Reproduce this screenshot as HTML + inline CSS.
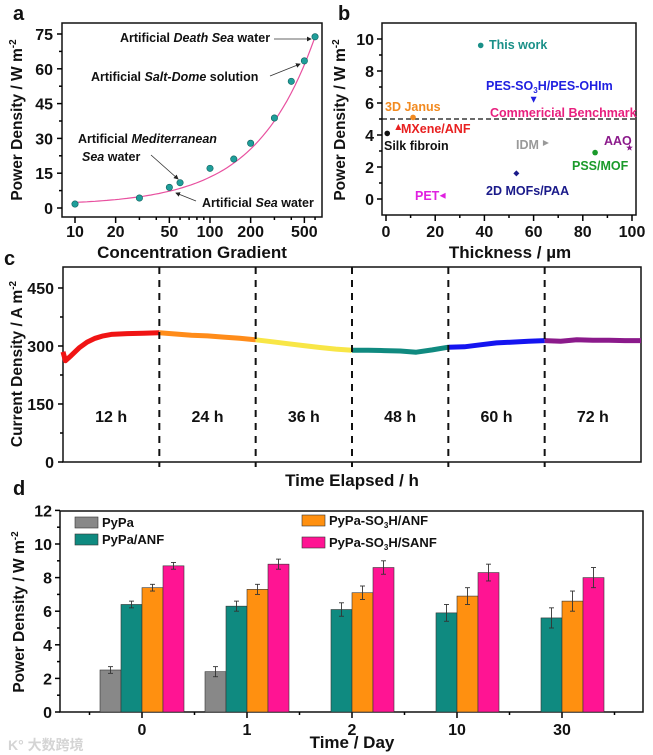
<!DOCTYPE html>
<html><head><meta charset="utf-8">
<style>
html,body{margin:0;padding:0;background:#fff;}
svg{display:block;font-family:"Liberation Sans",Arial,sans-serif;font-weight:bold;}
</style></head>
<body>
<svg id="fig" width="653" height="755" viewBox="0 0 653 755" xmlns="http://www.w3.org/2000/svg">
<g id="pa"></g>
<g id="pb"></g>
<g id="pc"></g>
<g id="pd"></g>
<text x="8" y="750" font-size="14" fill="#d4d4d4" font-family="'Liberation Sans','Noto Sans CJK SC',sans-serif">K° 大数跨境</text>
</svg>
<script>
// ---------- DATA ----------
// panel a
const aConc = [10,30,50,60,100,150,200,300,400,500,600];
const aPower = [1.7,4.3,8.9,10.9,17.1,21.1,27.9,38.8,54.6,63.4,73.8];
const aYTicks = [0,15,30,45,60,75];
const aXTicks = [10,20,50,100,200,500];
// panel b
const bNames = ["This work","PES-SO3H/PES-OHIm","3D Janus","MXene/ANF","Silk fibroin","IDM","AAO","PSS/MOF","2D MOFs/PAA","PET"];
const bThick = [38.5,60,11,5,0.5,65,99,85,53,23];
const bPower = [9.6,6.2,5.1,4.5,4.1,3.5,3.2,2.9,1.6,0.2];
const bYTicks = [0,2,4,6,8,10];
const bXTicks = [0,20,40,60,80,100];
const bBenchmark = 5;
// panel c
const cTime = [0,0.3,1,2,3,4,5,6,8,10,12,14,16,18,20,22,24,26,28,30,32,34,36,38,40,42,44,46,48,50,52,54,56,58,60,62,64,66,68,70,72];
const cCurrent = [285,262,275,295,310,320,326,330,332,333,334,331,328,326,323,320,316,311,306,301,296,292,289,289,288,287,284,290,297,298,303,308,310,312,314,312,316,315,315,314,314];
const cSegLabels = ["12 h","24 h","36 h","48 h","60 h","72 h"];
const cYTicks = [0,150,300,450];
// panel d
const dDays = ["0","1","2","10","30"];
const dPyPa = [2.5,2.4,null,null,null];
const dPyPaErr = [0.2,0.3,0,0,0];
const dANF = [6.4,6.3,6.1,5.9,5.6];
const dANFErr = [0.2,0.3,0.4,0.5,0.6];
const dSO3H = [7.4,7.3,7.1,6.9,6.6];
const dSO3HErr = [0.2,0.3,0.4,0.5,0.6];
const dSANF = [8.7,8.8,8.6,8.3,8.0];
const dSANFErr = [0.2,0.3,0.4,0.5,0.6];
const dYTicks = [0,2,4,6,8,10,12];

// ---------- HELPERS ----------
const NS="http://www.w3.org/2000/svg";
function mk(parent,tag,attrs,txt){const e=document.createElementNS(NS,tag);for(const k in attrs)e.setAttribute(k,attrs[k]);if(txt!==undefined)e.textContent=txt;parent.appendChild(e);return e;}
function line(p,x1,y1,x2,y2,st,w,dash){return mk(p,'line',{x1,y1,x2,y2,stroke:st||'#000','stroke-width':w||1.5,'stroke-dasharray':dash||'none'});}
function txt(p,x,y,s,size,anchor,fill){return mk(p,'text',{x,y,'font-size':size||16,'text-anchor':anchor||'middle',fill:fill||'#111'},s);}
function ytitle(p,x,y,main,unit,sup){const t=mk(p,'text',{x:0,y:0,'font-size':15.5,'text-anchor':'middle',transform:`translate(${x},${y}) rotate(-90)`,fill:'#111'});
 mk(t,'tspan',{},main+' / '+unit+' m');mk(t,'tspan',{dy:-6,'font-size':10},sup);return t;}

// ---------- PANEL A ----------
const pa=document.getElementById('pa');
const xa=v=>75+135*Math.log10(v/10), ya=v=>208-2.32*v;
txt(pa,13,20,'a',20,'start');
const aBox=mk(pa,'rect',{x:62,y:23,width:260,height:194,fill:'none',stroke:'#111','stroke-width':1.5});


aYTicks.forEach(v=>{line(pa,57,ya(v),62,ya(v));const t=txt(pa,53,ya(v)+6,String(v),16,'end');
 
 });
for(let v=7.5;v<80;v+=15){if(ya(v)>23)line(pa,59,ya(v),62,ya(v));}
[10,20,30,40,50,60,70,80,90,100,200,300,400,500,600].forEach(v=>{const big=aXTicks.includes(v);line(pa,xa(v),217,xa(v),big?223:220);});
aXTicks.forEach(v=>{const t=txt(pa,xa(v),237,String(v),16);
 
 });
const atx=txt(pa,192,258,'Concentration Gradient',17);


const aty=ytitle(pa,22,120,'Power Density','W','-2');


// fit curve
let d='';for(let i=0;i<=60;i++){const c=10*Math.pow(60,i/60);const y=1.2+0.121*c;d+=(i?'L':'M')+xa(c).toFixed(1)+','+ya(y).toFixed(1);}
const fit=mk(pa,'path',{d,fill:'none',stroke:'#e8509f','stroke-width':1.2});


aConc.forEach((c,i)=>{const p=mk(pa,'circle',{cx:xa(c),cy:ya(aPower[i]),r:3.2,fill:'#1f9e9a',stroke:'#0d5f5c','stroke-width':0.6});
 
 });
function ann(p,x,y,parts,size){const t=mk(p,'text',{x,y,'font-size':size||12.5,fill:'#111'});parts.forEach(s=>mk(t,'tspan',s[1]?{'font-style':'italic'}:{},s[0]));return t;}
mk(pa,'defs',{}).innerHTML='<marker id="ar" markerWidth="6" markerHeight="6" refX="5" refY="3" orient="auto"><path d="M0,0L6,3L0,6z" fill="#222"/></marker>';
function arrow(p,x1,y1,x2,y2){return mk(p,'line',{x1,y1,x2,y2,stroke:'#333','stroke-width':0.8,'marker-end':'url(#ar)'});}
const a1=ann(pa,120,42,[['Artificial '],['Death Sea',1],[' water']]);
arrow(pa,274,39,311,39);
const a2=ann(pa,91,81,[['Artificial '],['Salt-Dome',1],[' solution']]);
arrow(pa,270,76,300,64);
const a3=ann(pa,78,143,[['Artificial '],['Mediterranean',1]]);
ann(pa,82,161,[['Sea',1],[' water']]);
arrow(pa,151,155,178,179);
const a4=ann(pa,202,207,[['Artificial '],['Sea',1],[' water']]);
arrow(pa,196,201,176,193);

// ---------- PANEL B ----------
const pb=document.getElementById('pb');
const xb=v=>386+2.46*v, yb=v=>199-16*v;
txt(pb,338,20,'b',20,'start');
const bBox=mk(pb,'rect',{x:382,y:23,width:254,height:192,fill:'none',stroke:'#111','stroke-width':1.5});


bYTicks.forEach(v=>{line(pb,377,yb(v),382,yb(v));const t=txt(pb,374,yb(v)+6,String(v),16,'end');
 
 });
for(let v=-1;v<=11;v+=2){if(yb(v)>23&&yb(v)<215)line(pb,379,yb(v),382,yb(v));}
bXTicks.forEach(v=>{line(pb,xb(v),215,xb(v),221);const t=txt(pb,xb(v),237,String(v),16);
 
 });
for(let v=10;v<100;v+=20)line(pb,xb(v),215,xb(v),218);
const btx=txt(pb,510,258,'Thickness / µm',17);


const bty=ytitle(pb,345,120,'Power Density','W','-2');


const bench=line(pb,382,yb(bBenchmark),636,yb(bBenchmark),'#111',1.3,'5,3');


const bColors=['#1a9088','#1f1fe0','#f28a20','#e82020','#111','#999','#8b1a8b','#1a9a2a','#1a1a8a','#e020e0'];
const bShapes=['circle','tdown','circle','tup','circle','tright','star','circle','diamond','tleft'];
function marker(p,s,x,y,c){const r=3;let pts;
 if(s==='circle')return mk(p,'circle',{cx:x,cy:y,r:2.8,fill:c});
 if(s==='tup')pts=[[x,y-r],[x+r,y+r],[x-r,y+r]];
 if(s==='tdown')pts=[[x,y+r],[x+r,y-r],[x-r,y-r]];
 if(s==='tright')pts=[[x+r,y],[x-r,y-r],[x-r,y+r]];
 if(s==='tleft')pts=[[x-r,y],[x+r,y-r],[x+r,y+r]];
 if(s==='diamond')pts=[[x,y-r],[x+r,y],[x,y+r],[x-r,y]];
 if(s==='star'){pts=[];for(let i=0;i<10;i++){const a=-Math.PI/2+i*Math.PI/5,rr=i%2?1.5:3.5;pts.push([x+rr*Math.cos(a),y+rr*Math.sin(a)]);}}
 return mk(p,'polygon',{points:pts.map(q=>q.join(',')).join(' '),fill:c});}
bNames.forEach((n,i)=>{const m=marker(pb,bShapes[i],xb(bThick[i]),yb(bPower[i]),bColors[i]);
 
 });
const bLab=[[489,49,'This work',0],[486,90,'PES-SO3H/PES-OHIm',1],[385,111,'3D Janus',2],[401,133,'MXene/ANF',3],[384,150,'Silk fibroin',4],[516,149,'IDM',5],[604,145,'AAO',6],[572,170,'PSS/MOF',7],[486,195,'2D MOFs/PAA',8],[415,200,'PET',9]];
bLab.forEach(l=>{let t;
 if(l[3]===1){t=mk(pb,'text',{x:l[0],y:l[1],'font-size':12.5,fill:bColors[1]});mk(t,'tspan',{},'PES-SO');mk(t,'tspan',{dy:3,'font-size':8},'3');mk(t,'tspan',{dy:-3},'H/PES-OHIm');}
 else t=txt(pb,l[0],l[1],l[2],12.5,'start',bColors[l[3]]);
 
 });
const cb=txt(pb,490,117,'Commericial Benchmark',12.5,'start','#e8207e');



// ---------- PANEL C ----------
const pc=document.getElementById('pc');
const xc=t=>63+(578/72)*t, yc=v=>462-0.3867*v;
txt(pc,4,265,'c',20,'start');
const cBox=mk(pc,'rect',{x:63,y:267,width:578,height:195,fill:'none',stroke:'#111','stroke-width':1.5});


cYTicks.forEach(v=>{line(pc,58,yc(v),63,yc(v));const t=txt(pc,54,yc(v)+6,String(v),16,'end');
 
 });
[75,225,375].forEach(v=>line(pc,60,yc(v),63,yc(v)));
const segCols=['#f01414','#ff8c1a','#f8e646','#108a80','#1414f0','#8b1a8b'];
for(let s=0;s<6;s++){
 const t0=s*12,t1=(s+1)*12;let d='';
 cTime.forEach((t,i)=>{if(t>=t0&&t<=t1)d+=(d?'L':'M')+xc(t).toFixed(1)+','+yc(cCurrent[i]).toFixed(1);});
 const p=mk(pc,'path',{d,fill:'none',stroke:segCols[s],'stroke-width':5,'stroke-linejoin':'round'});
 
 
 const l=txt(pc,xc(t0+6),422,cSegLabels[s],16);
 
 
 if(s>0){const dl=line(pc,xc(t0),267,xc(t0),467,'#111',2,'7,6');
  
  }
}
const ctx=txt(pc,352,486,'Time Elapsed / h',17);


const cty=ytitle(pc,22,364,'Current Density','A','-2');



// ---------- PANEL D ----------
const pd=document.getElementById('pd');
const xd=i=>142+105*i, yd=v=>712-16.8*v;
txt(pd,13,495,'d',20,'start');
const dBox=mk(pd,'rect',{x:60,y:511,width:583,height:201,fill:'none',stroke:'#111','stroke-width':1.5});


dYTicks.forEach(v=>{line(pd,55,yd(v),60,yd(v));const t=txt(pd,52,yd(v)+6,String(v),16,'end');
 
 });
for(let v=1;v<12;v+=2)line(pd,57,yd(v),60,yd(v));
dDays.forEach((s,i)=>{line(pd,xd(i),712,xd(i),718);line(pd,xd(i)-52.5,712,xd(i)-52.5,715);
 const t=txt(pd,xd(i),735,s,16);
 
 });
line(pd,xd(4)+52.5,712,xd(4)+52.5,715);
const series=[[dPyPa,dPyPaErr,'#888888'],[dANF,dANFErr,'#0f8a80'],[dSO3H,dSO3HErr,'#ff9010'],[dSANF,dSANFErr,'#ff1493']];
series.forEach((sr,k)=>{sr[0].forEach((v,i)=>{if(v===null)return;
 const x=xd(i)-42+21*k;
 const r=mk(pd,'rect',{x,y:yd(v),width:21,height:712-yd(v),fill:sr[2],stroke:'#333','stroke-width':0.6});
 
 
 const e=sr[1][i],cx=x+10.5;
 line(pd,cx,yd(v+e),cx,yd(v-e),'#333',0.9);line(pd,cx-2.5,yd(v+e),cx+2.5,yd(v+e),'#333',0.9);line(pd,cx-2.5,yd(v-e),cx+2.5,yd(v-e),'#333',0.9);
});});
const leg=[[75,517,'#888888','PyPa'],[75,534,'#0f8a80','PyPa/ANF'],[302,515,'#ff9010','ANF'],[302,537,'#ff1493','SANF']];
leg.forEach(l=>{const sw=mk(pd,'rect',{x:l[0],y:l[1],width:23,height:11,fill:l[2],stroke:'#333','stroke-width':0.6});
 
 
 let t;
 if(l[0]>200){t=mk(pd,'text',{x:l[0]+27,y:l[1]+10,'font-size':13,fill:'#111'});mk(t,'tspan',{},'PyPa-SO');mk(t,'tspan',{dy:3,'font-size':8},'3');mk(t,'tspan',{dy:-3},'H/'+l[3]);}
 else t=txt(pd,l[0]+27,l[1]+10,l[3],13,'start');
 
 });
const dtx=txt(pd,352,748,'Time / Day',17);


const dty=ytitle(pd,24,612,'Power Density','W','-2');


</script>
</body></html>
